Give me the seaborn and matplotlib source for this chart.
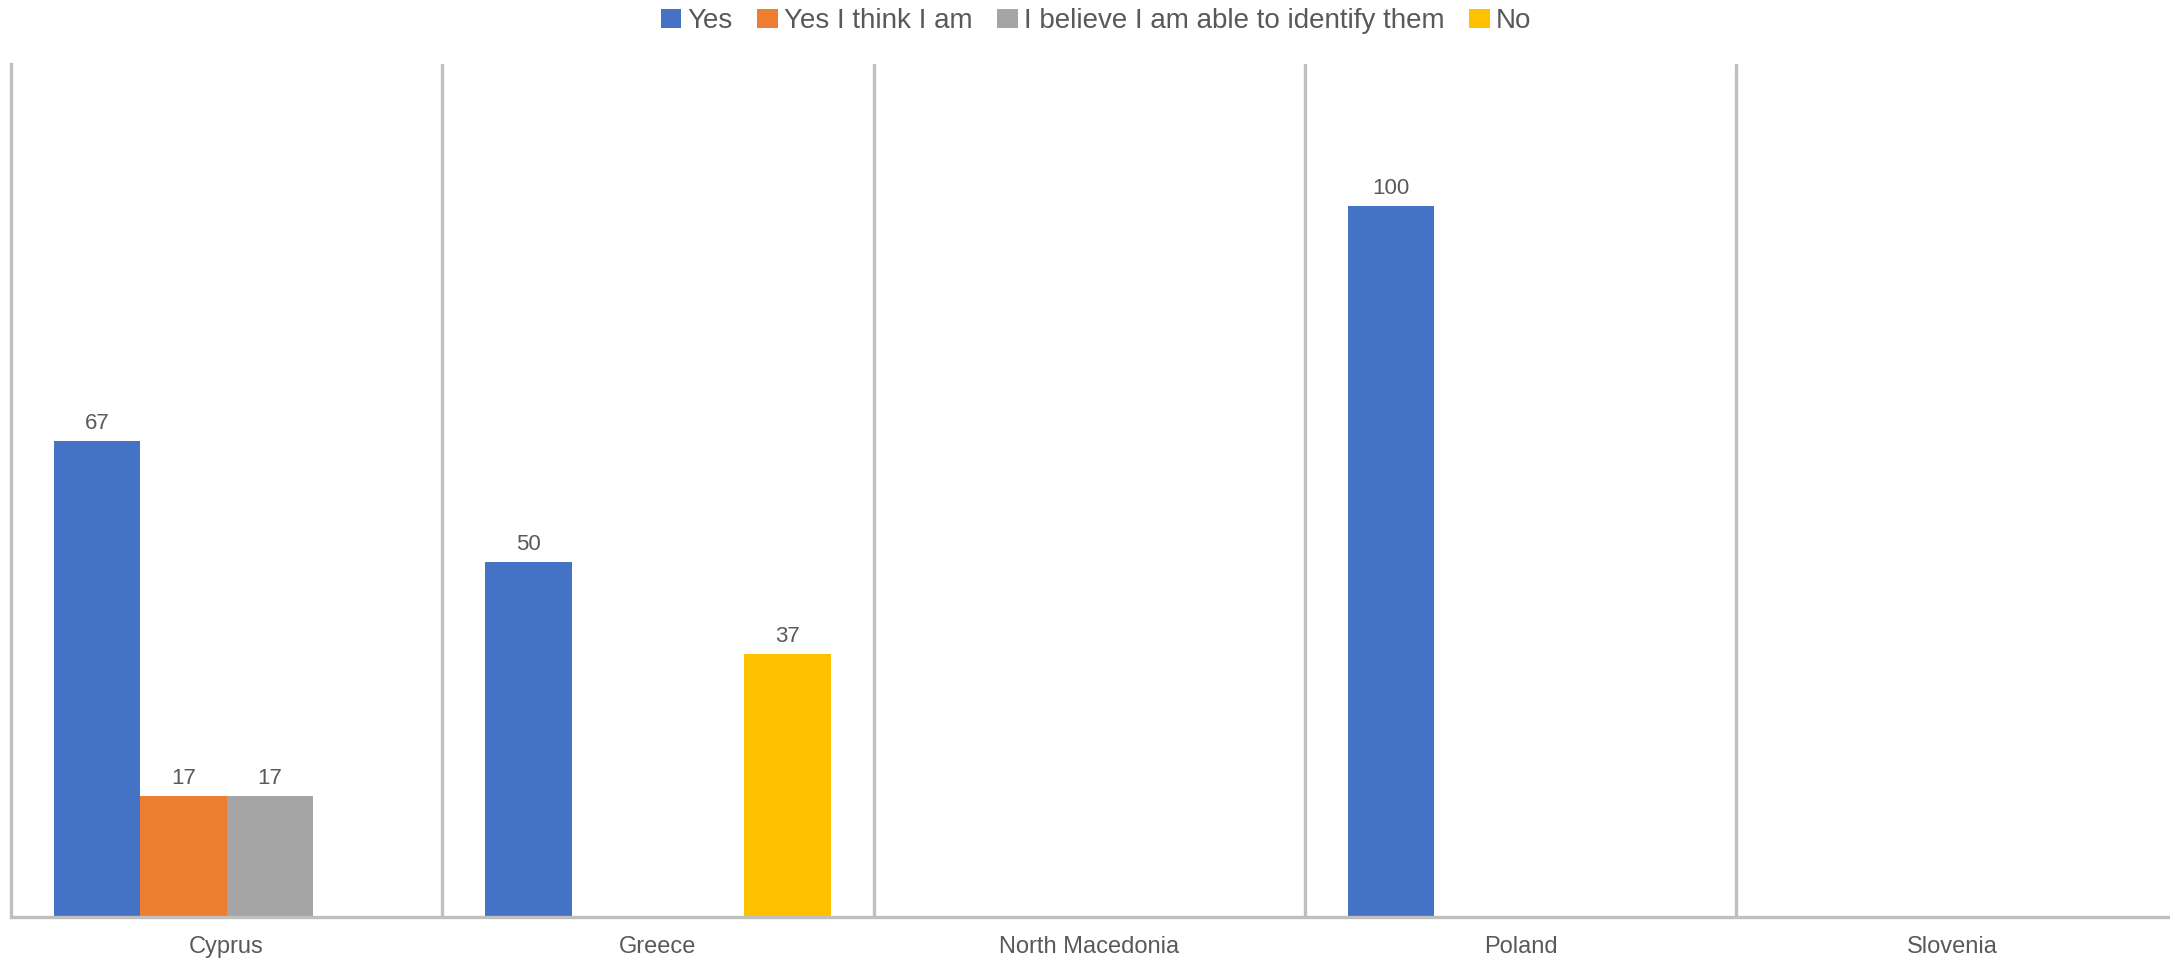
import matplotlib
matplotlib.use("Agg")
import matplotlib.pyplot as plt
import numpy as np
import pandas as pd
import seaborn as sns

# data
countries = ['Cyprus', 'Greece', 'North Macedonia', 'Poland', 'Slovenia']
answers = ['Yes', 'Yes I think I am', 'I believe I am able to identify them', 'No']
yes = [67, 50, 0, 100, 0]
yes_think = [17, 0, 0, 0, 0]
believe = [17, 0, 0, 0, 0]
no = [0, 37, 0, 0, 0]
colors = ['#4472C4', '#ED7D31', '#A5A5A5', '#FFC000']

rows = []
for ans, vals in zip(answers, [yes, yes_think, believe, no]):
    for c, v in zip(countries, vals):
        rows.append({'country': c, 'answer': ans, 'value': v})
df = pd.DataFrame(rows)

sns.set_style("white")
plt.rcParams['font.family'] = ['Liberation Sans', 'DejaVu Sans']
txt = '#595959'
line_col = '#BFBFBF'

fig = plt.figure(figsize=(21.7, 9.64), dpi=100)
ax = fig.add_axes([0.005, 0.0488, 0.994, 0.8848])

sns.barplot(data=df, x='country', y='value', hue='answer', order=countries,
            hue_order=answers, palette=colors, saturation=1, width=0.8,
            edgecolor='none', linewidth=0, ax=ax)

# value labels, skip empty bars
for cont in ax.containers:
    labels = ['%g' % v if v > 0 else '' for v in cont.datavalues]
    ax.bar_label(cont, labels=labels, padding=5, fontsize=16, color=txt)

ax.set_ylim(0, 120)
ax.set_xlim(-0.5, len(countries) - 0.5)
ax.set_yticks([])
ax.set_xlabel('')
ax.set_ylabel('')

# category separators
ax.set_xticks(np.arange(len(countries) - 1) + 0.5, minor=True)
ax.grid(which='minor', axis='x', color=line_col, linewidth=2.4)
ax.grid(which='major', visible=False)
ax.tick_params(axis='x', which='both', length=0, pad=14, labelsize=17, labelcolor=txt)

for s in ['top', 'right']:
    ax.spines[s].set_visible(False)
for s in ['left', 'bottom']:
    ax.spines[s].set_color(line_col)
    ax.spines[s].set_linewidth(2.4)

handles, labels = ax.get_legend_handles_labels()
ax.get_legend().remove()
fig.legend(handles, labels, loc='center', bbox_to_anchor=(0.505, 1 - 21 / 964),
           ncol=4, frameon=False, fontsize=20, labelcolor=txt,
           handlelength=0.75, handleheight=0.7, handletextpad=0.2,
           columnspacing=0.9)

fig.savefig('out.png', dpi=100)
